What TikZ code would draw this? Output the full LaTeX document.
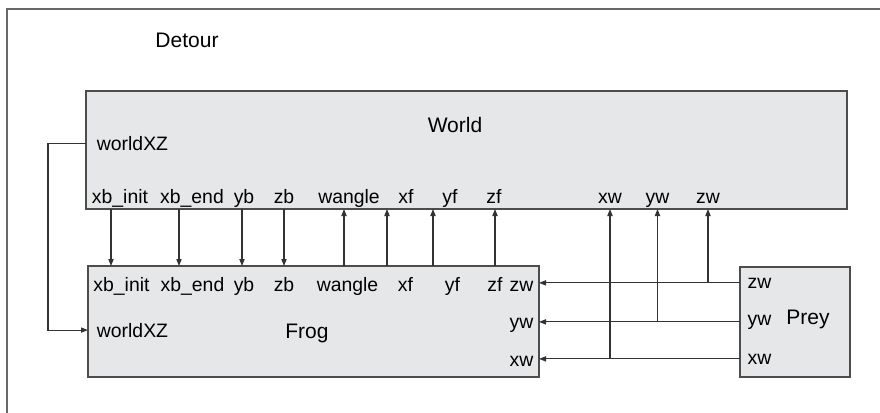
\documentclass[tikz,border=0pt]{standalone}
\usepackage{fontspec}
\setmainfont{Liberation Sans}
\usetikzlibrary{positioning,calc,arrows.meta}

\definecolor{boxfill}{HTML}{E6E7E8}
\definecolor{boxline}{HTML}{4D4D4D}
\definecolor{wire}{HTML}{333333}

\begin{document}
\begin{tikzpicture}[x=0.5pt, y=-0.5pt,
	arr/.style={-{Triangle[length=3.5pt,width=2.6pt]},line width=0.55pt,draw=wire},
	line/.style={line width=0.55pt,draw=wire},
	frame/.style={line width=1pt,draw=boxline!85},
	box/.style={rectangle,draw=boxline,line width=0.75pt,fill=boxfill,inner sep=0pt,outer sep=0pt},
	port/.style={anchor=base,inner sep=0pt,font=\fontsize{9.7}{11}\selectfont},
	title/.style={anchor=base,inner sep=0pt,font=\fontsize{10.5}{12}\selectfont}]

    \useasboundingbox (0,0) rectangle (880,413);
    \draw [frame] (7,413) |- (880,9);
    \node (Detour) at (187,47) [title] {Detour};

    \node (World) at (466.5,150) [box, minimum width=380.5pt, minimum height=59pt] {};
    \node (wTitle) at (455,132) [title] {World};
    \node (wXZ) at (132.5,150) [port] {worldXZ};
    \node (wXbInit) at (120,203) [port] {xb\_init};
    \node (wXbEnd) at (192,203) [port] {xb\_end};
    \node (wYb) at (244,203) [port] {yb};
    \node (wZb) at (284,203) [port] {zb};
    \node (wWangle) at (349,203) [port] {wangle};
    \node (wXf) at (406,203) [port] {xf};
    \node (wYf) at (450,203) [port] {yf};
    \node (wZf) at (494,203) [port] {zf};
    \node (wXw) at (610,203) [port] {xw};
    \node (wYw) at (657.5,203) [port] {yw};
    \node (wZw) at (708,203) [port] {zw};

    \node (Frog) at (313.5,321.5) [box, minimum width=225.5pt, minimum height=55.5pt] {};
    \node (fTitle) at (307,338) [title] {Frog};
    \node (fXZ) at (132.5,337) [port] {worldXZ};
    \node (fXbInit) at (121.5,291) [port] {xb\_init};
    \node (fXbEnd) at (192.5,291) [port] {xb\_end};
    \node (fYb) at (244,291) [port] {yb};
    \node (fZb) at (284,291) [port] {zb};
    \node (fWangle) at (347.5,291) [port] {wangle};
    \node (fXf) at (405.5,291) [port] {xf};
    \node (fYf) at (452.5,291) [port] {yf};
    \node (fZf) at (495,291) [port] {zf};
    \node (fZw) at (521.5,291) [port] {zw};
    \node (fYw) at (521.5,328) [port] {yw};
    \node (fXw) at (521.5,366) [port] {xw};

    \node (Prey) at (795,322) [box, minimum width=55pt, minimum height=55pt] {};
    \node (pTitle) at (808,324) [title] {Prey};
    \node (pZw) at (759.5,288) [port] {zw};
    \node (pYw) at (759.5,325) [port] {yw};
    \node (pXw) at (759.5,364) [port] {xw};

%   World -> Frog
    \draw [arr] (World.south -| 111,0) -- (Frog.north -| 111,0);
    \draw [arr] (World.south -| 179,0) -- (Frog.north -| 179,0);
    \draw [arr] (World.south -| 242,0) -- (Frog.north -| 242,0);
    \draw [arr] (World.south -| 284,0) -- (Frog.north -| 284,0);
    \draw [arr] (World.west |- wXZ) -- ++(-38,0) |- (Frog.west |- fXZ);

%   Frog -> World
    \draw [arr] (Frog.north -| 344,0) -- (World.south -| 344,0);
    \draw [arr] (Frog.north -| 387,0) -- (World.south -| 387,0);
    \draw [arr] (Frog.north -| 433,0) -- (World.south -| 433,0);
    \draw [arr] (Frog.north -| 495,0) -- (World.south -| 495,0);

%   Prey -> Frog, World
    \draw [arr] (Prey.west |- pZw) -- (Frog.east |- pZw);
    \draw [arr] (Prey.west |- pYw) -- (Frog.east |- pYw);
    \draw [arr] (Prey.west |- pXw) -- (Frog.east |- pXw);
    \draw [arr] (wZw |- pZw) -- (World.south -| wZw);
    \draw [arr] (wYw |- pYw) -- (World.south -| wYw);
    \draw [arr] (wXw |- pXw) -- (World.south -| wXw);

\end{tikzpicture}
\end{document}
